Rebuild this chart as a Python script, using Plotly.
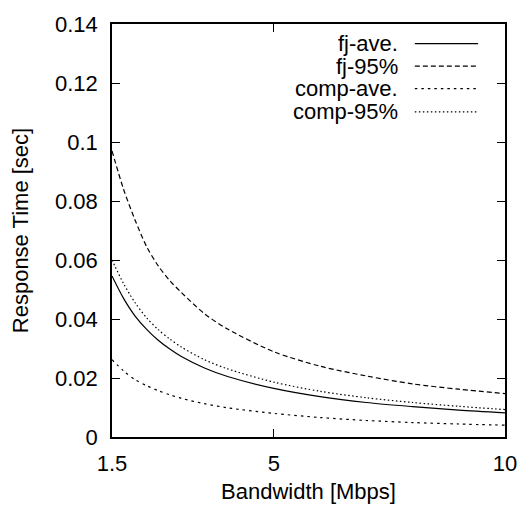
import plotly.graph_objects as go

bandwidth = [1.5, 1.75, 2, 2.25, 2.5, 2.75, 3, 3.5, 4, 5, 6, 7, 8, 9, 10]
fj_ave = [0.0546, 0.0470, 0.0410, 0.0365, 0.0328, 0.0298, 0.0273, 0.0234, 0.0205, 0.0165, 0.0137, 0.0117, 0.0103, 0.0091, 0.0082]
fj_95 = [0.0970, 0.0840, 0.0735, 0.0645, 0.0580, 0.0530, 0.0490, 0.0418, 0.0366, 0.0289, 0.0240, 0.0207, 0.0180, 0.0162, 0.0147]
comp_ave = [0.0262, 0.0224, 0.0194, 0.0174, 0.0157, 0.0143, 0.0131, 0.0113, 0.0099, 0.0080, 0.0066, 0.0056, 0.0049, 0.0044, 0.0040]
comp_95 = [0.0600, 0.0520, 0.0455, 0.0404, 0.0364, 0.0332, 0.0305, 0.0262, 0.0231, 0.0186, 0.0155, 0.0133, 0.0117, 0.0104, 0.0093]

series_names = ["fj-ave.", "fj-95%", "comp-ave.", "comp-95%"]
series_vals = [fj_ave, fj_95, comp_ave, comp_95]
dashes = ["solid", "5px,3px", "2.5px,4px", "1.5px,2.5px"]

x_ticks = [1.5, 5, 10]
x_ticktext = ["1.5", "5", "10"]
y_ticks = [0, 0.02, 0.04, 0.06, 0.08, 0.1, 0.12, 0.14]
y_ticktext = ["0", "0.02", "0.04", "0.06", "0.08", "0.1", "0.12", "0.14"]

FONT = "Liberation Sans, Arial, sans-serif"
FS = 22

fig = go.Figure()
for name, vals, dash in zip(series_names, series_vals, dashes):
    fig.add_trace(go.Scatter(
        x=bandwidth, y=vals, mode="lines", name=name,
        line=dict(color="black", width=1.2, dash=dash, shape="spline", smoothing=0.8),
        showlegend=False,
    ))

# manual gnuplot-style legend (text right-aligned, sample on the right)
leg_y = [0.9526, 0.8979, 0.8435, 0.7874]
for name, dash, yy in zip(series_names, dashes, leg_y):
    fig.add_annotation(x=0.7327, y=yy, xref="paper", yref="paper", text=name,
                       showarrow=False, xanchor="right", yanchor="middle",
                       font=dict(family=FONT, size=FS, color="black"))
    fig.add_shape(type="line", xref="paper", yref="paper",
                  x0=0.7706, x1=0.9314, y0=yy, y1=yy,
                  line=dict(color="black", width=1.2, dash=dash))

axis_common = dict(
    showline=True, linecolor="black", linewidth=1.5, mirror="ticks",
    ticks="inside", ticklen=8, tickwidth=1, tickcolor="black",
    showgrid=False, zeroline=False,
    tickfont=dict(family=FONT, size=FS, color="black"),
)

fig.update_xaxes(range=[1.5, 10], tickvals=x_ticks, ticktext=x_ticktext,
                 ticklabelstandoff=6,
                 title=dict(text="Bandwidth [Mbps]", font=dict(family=FONT, size=FS, color="black"), standoff=8),
                 **axis_common)
fig.update_yaxes(range=[0, 0.14], tickvals=y_ticks, ticktext=y_ticktext,
                 ticklabelstandoff=8,
                 title=dict(text="Response Time [sec]", font=dict(family=FONT, size=FS, color="black"), standoff=20),
                 **axis_common)

fig.update_layout(
    width=529, height=512,
    margin=dict(l=112, r=13, t=14, b=70),
    paper_bgcolor="white", plot_bgcolor="white",
    font=dict(family=FONT, size=FS, color="black"),
)

fig.write_html("out.html")
